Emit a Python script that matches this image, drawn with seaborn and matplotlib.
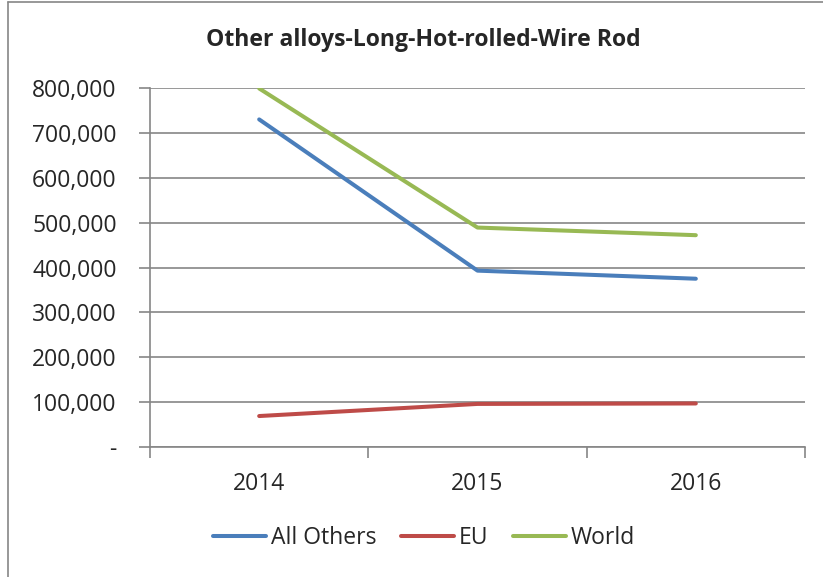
import matplotlib
matplotlib.use("Agg")
import matplotlib.pyplot as plt
import matplotlib.ticker as mticker
from matplotlib.lines import Line2D
import seaborn as sns
import pandas as pd

years = ["2014", "2015", "2016"]
all_others = [730000, 393000, 375000]
eu = [69000, 96000, 97000]
world = [799000, 489000, 472000]
series_names = ["All Others", "EU", "World"]
colors = ["#4A7EBB", "#BE4B48", "#98B954"]

df = pd.DataFrame({
    "Year": years * 3,
    "Value": all_others + eu + world,
    "Series": [s for s in series_names for _ in years],
})

sns.set_theme(style="white")
plt.rcParams["font.family"] = ["Open Sans", "DejaVu Sans"]

fig = plt.figure(figsize=(8.23, 5.77), dpi=100)
ax = fig.add_axes([150 / 823, 1 - 447 / 577, 655 / 823, 359 / 577])

df["x"] = df["Year"].map({y: i for i, y in enumerate(years)})
sns.lineplot(data=df, x="x", y="Value", hue="Series", palette=colors,
             linewidth=2.9, ax=ax, legend=False, sort=False)
for l in ax.lines:
    l.set_solid_capstyle("round")

ax.set_xlim(-0.5, 2.5)
ax.set_ylim(0, 800000)
ax.set_yticks(range(0, 800001, 100000))
ax.yaxis.set_major_formatter(mticker.FuncFormatter(
    lambda v, p: "-" if v == 0 else f"{int(v):,}"))
ax.yaxis.grid(True, color="#868686", linewidth=1.2)
ax.set_axisbelow(True)

# category labels between boundary tick marks
ax.set_xticks([-0.5, 0.5, 1.5, 2.5])
ax.set_xticklabels([])
ax.set_xticks([0, 1, 2], minor=True)
ax.set_xticklabels(years, minor=True)
ax.tick_params(axis="x", which="major", direction="out", length=8,
               width=1.2, color="#868686", bottom=True)
ax.tick_params(axis="x", which="minor", length=0, pad=18, labelsize=16.5)
ax.tick_params(axis="y", direction="out", length=8, width=1.2,
               color="#868686", left=True, labelsize=16.5, pad=16)

for side in ["top", "right"]:
    ax.spines[side].set_visible(False)
for side in ["left", "bottom"]:
    ax.spines[side].set_color("#868686")
    ax.spines[side].set_linewidth(1.2)
ax.set_xlabel("")
ax.set_ylabel("")

fig.text(423 / 823, 1 - 40 / 577, "Other alloys-Long-Hot-rolled-Wire Rod",
         ha="center", va="center", fontsize=16.6, fontweight="bold")

handles = [Line2D([0], [0], color=c, linewidth=2.9, solid_capstyle="round")
           for c in colors]
fig.legend(handles, series_names, loc="center", ncol=3, frameon=False,
           bbox_to_anchor=(424 / 823, 1 - 538 / 577), fontsize=16.5,
           handlelength=2.3, handletextpad=0.2, columnspacing=1.1)

# chart area outline
fig.add_artist(Line2D([8 / 823, 8 / 823], [0, 1 - 2 / 577],
                      transform=fig.transFigure, color="#868686", linewidth=1.2))
fig.add_artist(Line2D([8 / 823, 1], [1 - 2 / 577, 1 - 2 / 577],
                      transform=fig.transFigure, color="#868686", linewidth=1.2))

fig.savefig("out.png", dpi=100, facecolor="white")
